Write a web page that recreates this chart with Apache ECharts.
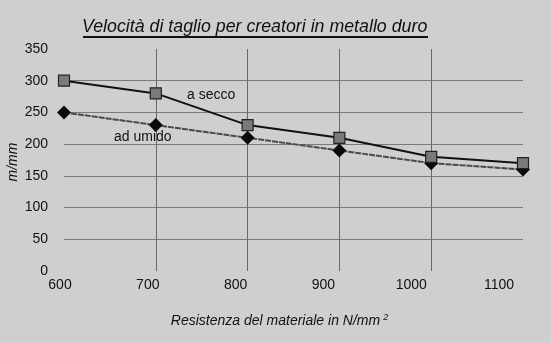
<!DOCTYPE html>
<html><head><meta charset="utf-8">
<script src="https://cdn.jsdelivr.net/npm/echarts@6/dist/echarts.min.js"></script>
<style>html,body{margin:0;padding:0;background:#cfcfcf;}#c{width:551px;height:343px;}</style>
</head><body><div id="c"></div>
<script>
var categories = [600, 700, 800, 900, 1000, 1100];
var secco = [300, 280, 230, 210, 180, 170];
var umido = [250, 230, 210, 190, 170, 160];
var yTicks = [0, 50, 100, 150, 200, 250, 300, 350];

var chart = echarts.init(document.getElementById('c'), null, {renderer: 'canvas'});
var F = 'Liberation Sans, Arial, sans-serif';
chart.setOption({
  backgroundColor: '#cfcfcf',
  animation: false,
  title: {
    text: 'Velocità di taglio per creatori in metallo duro',
    left: 82, top: 18, padding: 0,
    textStyle: {fontFamily: F, fontStyle: 'italic', fontWeight: 'normal', fontSize: 17.8, color: '#111'}
  },
  grid: [
    {left: 64, right: 28, top: 49, bottom: 72, containLabel: false, outerBoundsMode: 'none'},
    {left: 60, right: 52, top: 49, bottom: 72, containLabel: false, outerBoundsMode: 'none'}
  ],
  xAxis: [{
    type: 'value', min: 600, max: 1100, interval: 100, gridIndex: 0,
    axisLine: {show: false}, axisTick: {show: false},
    axisLabel: {show: false},
    splitLine: {show: true, lineStyle: {color: ['transparent', '#6a6a6a', '#6a6a6a', '#6a6a6a', '#6a6a6a', 'transparent'], width: 1}}
  }, {
    type: 'value', min: 600, max: 1100, interval: 100, gridIndex: 1,
    axisLine: {show: false}, axisTick: {show: false}, splitLine: {show: false},
    axisLabel: {fontFamily: F, fontSize: 14, color: '#111', margin: 7, formatter: function (v) { return String(v); }},
    name: 'Resistenza del materiale in N/mm{s|2}',
    nameLocation: 'middle', nameGap: 42,
    nameTextStyle: {fontFamily: F, fontStyle: 'italic', fontSize: 14, color: '#111', padding: [0, 0, 0, 0],
      rich: {s: {fontSize: 9, fontStyle: 'italic', verticalAlign: 'top', padding: [0, 0, 8, 3], fontFamily: F, color: '#111'}}}
  }],
  yAxis: [{
    type: 'value', min: 0, max: 350, interval: 50, gridIndex: 0,
    axisLine: {show: false}, axisTick: {show: false},
    axisLabel: {fontFamily: F, fontSize: 14, color: '#111', margin: 16},
    splitLine: {show: true, lineStyle: {color: ['transparent', '#7a7a7a', '#7a7a7a', '#7a7a7a', '#7a7a7a', '#7a7a7a', '#7a7a7a', 'transparent'], width: 1}}
  }, {
    type: 'value', min: 0, max: 350, interval: 50, gridIndex: 1, show: false
  }],
  series: [
    {
      name: 'ad umido', type: 'line', xAxisIndex: 0, yAxisIndex: 0,
      data: categories.map(function (c, i) { return [c, umido[i]]; }),
      lineStyle: {color: '#4a4a4a', width: 2, type: [6, 1]},
      symbol: 'diamond', symbolSize: 14,
      itemStyle: {color: '#0a0a0a', borderColor: '#0a0a0a', borderWidth: 0},
      z: 3
    },
    {
      name: 'a secco', type: 'line', xAxisIndex: 0, yAxisIndex: 0,
      data: categories.map(function (c, i) { return [c, secco[i]]; }),
      lineStyle: {color: '#111', width: 2},
      symbol: 'rect', symbolSize: 11,
      itemStyle: {color: '#7a7a7a', borderColor: '#222', borderWidth: 1.2},
      z: 4
    }
  ],
  graphic: [
    {type: 'text', left: 187, top: 88, style: {text: 'a secco', font: '14px ' + F, fill: '#111'}},
    {type: 'text', left: 114, top: 130, style: {text: 'ad umido', font: '14px ' + F, fill: '#111'}},
    {type: 'text', x: 13, y: 162, rotation: Math.PI / 2,
      style: {text: 'm/mm', font: 'italic 14px ' + F, fill: '#111', align: 'center', verticalAlign: 'middle'}},
    {type: 'rect', shape: {x: 83, y: 36, width: 345, height: 2}, style: {fill: '#111'}}
  ]
});
</script></body></html>
